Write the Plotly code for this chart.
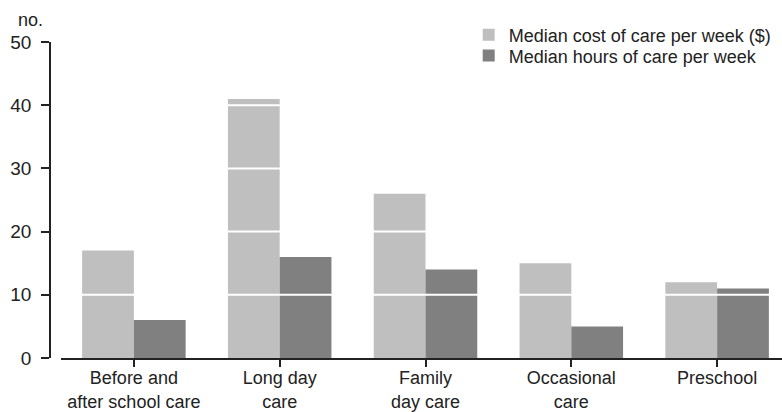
import plotly.graph_objects as go

categories = ["Before and<br>after school care", "Long day<br>care", "Family<br>day care", "Occasional<br>care", "Preschool"]
cost_values = [17, 41, 26, 15, 12]
hours_values = [6, 16, 14, 5, 11]
series_names = ["Median cost of care per week ($)", "Median hours of care per week"]
y_ticks = [0, 10, 20, 30, 40, 50]

FONT = "Liberation Sans, Arial, sans-serif"
TXT = "#222"
x = list(range(len(categories)))

fig = go.Figure()
fig.add_trace(go.Bar(x=x, y=cost_values, name=series_names[0], marker_color="#bfbfbf",
                     marker_line_width=0, legend="legend"))
fig.add_trace(go.Bar(x=x, y=hours_values, name=series_names[1], marker_color="#808080",
                     marker_line_width=0, legend="legend2"))

# white gridlines drawn over bars
for t in y_ticks[1:-1]:
    fig.add_shape(type="line", xref="x", yref="y", x0=-0.5, x1=4.6, y0=t, y1=t,
                  line=dict(color="white", width=2), layer="above")

leg_common = dict(xanchor="left", yanchor="middle", bgcolor="rgba(0,0,0,0)",
                  font=dict(size=18, color=TXT), itemwidth=30)

fig.update_layout(
    width=782, height=412,
    margin=dict(l=50, r=0, t=42, b=54, autoexpand=False),
    paper_bgcolor="white", plot_bgcolor="white",
    barmode="group", bargap=0.29, bargroupgap=0,
    font=dict(family=FONT, size=18, color=TXT),
    showlegend=True,
    legend=dict(x=0.572, y=1.022, **leg_common),
    legend2=dict(x=0.572, y=0.956, **leg_common),
    xaxis=dict(domain=[0.015, 1], range=[-0.5, 4.445], tickmode="array", tickvals=x, ticktext=categories,
               showline=True, linecolor=TXT, linewidth=1.5, ticks="outside", ticklen=7,
               tickcolor=TXT, tickwidth=1.5, showgrid=False, zeroline=False,
               tickfont=dict(size=18), ticklabelstandoff=-4, automargin=False),
    yaxis=dict(range=[0, 50], tickvals=y_ticks, showline=True, linecolor=TXT, linewidth=1.5,
               ticks="outside", ticklen=8, tickcolor=TXT, tickwidth=1.5, showgrid=False,
               zeroline=False, anchor="free", position=0, tickfont=dict(size=19),
               ticklabelstandoff=6, automargin=False),
    annotations=[dict(text="no.", xref="paper", yref="paper", x=-0.047, y=1.0696,
                      xanchor="left", yanchor="middle", showarrow=False, font=dict(size=18, color=TXT))],
)

fig.write_html("out.html", config={"displayModeBar": False},
               post_script="document.body.style.margin='0';document.body.style.overflow='hidden';")
